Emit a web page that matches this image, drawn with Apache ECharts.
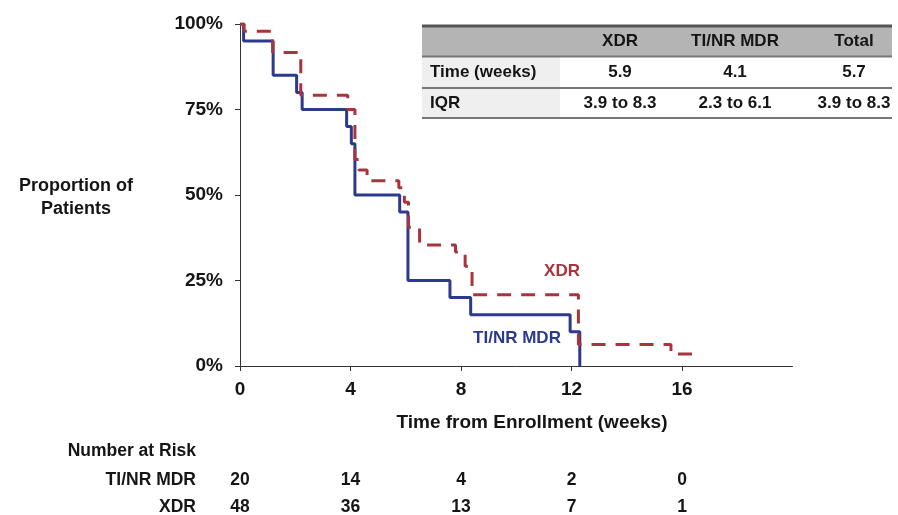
<!DOCTYPE html>
<html>
<head>
<meta charset="utf-8">
<title>Time to culture conversion</title>
<script src="https://cdn.jsdelivr.net/npm/echarts@6/dist/echarts.min.js"></script>
<style>
  html, body { margin: 0; padding: 0; background: #ffffff; }
  #chart { width: 898px; height: 515px; }
</style>
</head>
<body>
<div id="chart"></div>
<script>
// Kaplan–Meier step points: [week, % of patients still culture positive]
const mdrSteps = [[0, 100], [0.13, 95], [1.2, 85], [2.05, 80], [2.25, 75], [3.86, 70], [4.03, 65], [4.16, 50],
  [5.78, 45], [6.08, 25], [7.6, 20], [8.35, 15], [11.95, 10], [12.3, 0]];
const xdrSteps = [[0, 100], [0.15, 97.9], [1.18, 91.7], [2.2, 79.2], [3.9, 75], [4.16, 60.4], [4.3, 57.3],
  [4.6, 54.2], [5.75, 52.1], [5.95, 47.9], [6.1, 40.6], [6.5, 35.4], [7.8, 33.3], [8.15, 29.2], [8.4, 20.8],
  [12.25, 6.3], [15.6, 3.5], [16.7, 3.5]];

// Axis ticks
const xTicks = [0, 4, 8, 12, 16];

// Median / IQR table
const tableHeader = ['', 'XDR', 'TI/NR MDR', 'Total'];
const tableTime = ['Time (weeks)', '5.9', '4.1', '5.7'];
const tableIQR = ['IQR', '3.9 to 8.3', '2.3 to 6.1', '3.9 to 8.3'];

// Number at risk
const riskTimes = [0, 4, 8, 12, 16];
const riskMdr = [20, 14, 4, 2, 0];
const riskXdr = [48, 36, 13, 7, 1];

const FONT = "'Liberation Sans', Arial, Helvetica, sans-serif";
const INK = '#151515';
const AXIS = '#333333';
const BLUE = '#2b3a8c';
const RED = '#a9343c';

const chart = echarts.init(document.getElementById('chart'), null, { renderer: 'canvas' });

chart.setOption({
  animation: false,
  backgroundColor: '#ffffff',
  grid: { left: 240, right: 105.5, top: 24, bottom: 149, containLabel: false },
  xAxis: {
    type: 'value', min: 0, max: 20, interval: 4,
    axisLine: { show: true, lineStyle: { color: AXIS, width: 1 } },
    axisTick: { show: true, length: 5, customValues: xTicks, lineStyle: { color: AXIS } },
    axisLabel: { customValues: xTicks, margin: 14, color: INK, fontFamily: FONT, fontWeight: 'bold', fontSize: 19 },
    splitLine: { show: false }
  },
  yAxis: {
    type: 'value', min: 0, max: 100, interval: 25,
    axisLine: { show: true, lineStyle: { color: AXIS, width: 1 } },
    axisTick: { show: true, length: 5, lineStyle: { color: AXIS } },
    axisLabel: { formatter: '{value}%', margin: 17, color: INK, fontFamily: FONT, fontWeight: 'bold', fontSize: 19 },
    splitLine: { show: false }
  },
  series: [
    {
      name: 'TI/NR MDR', type: 'line', step: 'end', data: mdrSteps, showSymbol: false, z: 3,
      lineStyle: { color: BLUE, width: 3 }
    },
    {
      name: 'XDR', type: 'line', step: 'end', data: xdrSteps, showSymbol: false, z: 4,
      lineStyle: { color: RED, width: 3, type: [14, 10] }
    }
  ]
});

function txt(text, x, y, opts) {
  opts = opts || {};
  return {
    type: 'text', z: 10,
    style: {
      text: text, x: x, y: y,
      fill: opts.fill || INK,
      font: 'bold ' + (opts.size || 17) + 'px ' + FONT,
      textAlign: opts.align || 'center',
      textVerticalAlign: 'middle',
      lineHeight: opts.lineHeight
    }
  };
}

const graphic = [];

// Axis titles
graphic.push(txt('Proportion of\nPatients', 76, 198, { size: 18, lineHeight: 23 }));
graphic.push(txt('Time from Enrollment (weeks)', 532, 423, { size: 19 }));

// Curve labels
graphic.push(txt('XDR', 562, 271, { fill: RED, size: 17 }));
graphic.push(txt('TI/NR MDR', 517, 338, { fill: BLUE, size: 17 }));

// Table
const tLeft = 422, tRight = 892;
const rowY = [26, 56.5, 88, 118];
const colX = [430, 620, 735, 854];
graphic.push({ type: 'rect', z: 5, shape: { x: tLeft, y: rowY[0], width: tRight - tLeft, height: rowY[1] - rowY[0] }, style: { fill: '#b4b4b4' } });
graphic.push({ type: 'rect', z: 5, shape: { x: tLeft, y: rowY[1], width: 138, height: rowY[3] - rowY[1] }, style: { fill: '#efefef' } });
rowY.forEach(function (y, i) {
  graphic.push({ type: 'line', z: 6, shape: { x1: tLeft, y1: y, x2: tRight, y2: y },
    style: { stroke: i === 0 ? '#555555' : '#767676', lineWidth: i === 0 ? 3 : 2 } });
});
[tableHeader, tableTime, tableIQR].forEach(function (row, r) {
  const cy = (rowY[r] + rowY[r + 1]) / 2;
  row.forEach(function (cell, c) {
    if (!cell) return;
    graphic.push(txt(cell, colX[c], cy, { align: c === 0 ? 'left' : 'center', size: 17 }));
  });
});

// Number at risk, columns placed on the time axis
graphic.push(txt('Number at Risk', 196, 451, { align: 'right', size: 17.5 }));
graphic.push(txt('TI/NR MDR', 196, 480, { align: 'right', size: 17.5 }));
graphic.push(txt('XDR', 196, 507, { align: 'right', size: 17.5 }));
riskTimes.forEach(function (t, i) {
  const px = chart.convertToPixel({ xAxisIndex: 0 }, t);
  graphic.push(txt(String(riskMdr[i]), px, 480, { size: 17.5 }));
  graphic.push(txt(String(riskXdr[i]), px, 507, { size: 17.5 }));
});

chart.setOption({ graphic: graphic });
</script>
</body>
</html>
